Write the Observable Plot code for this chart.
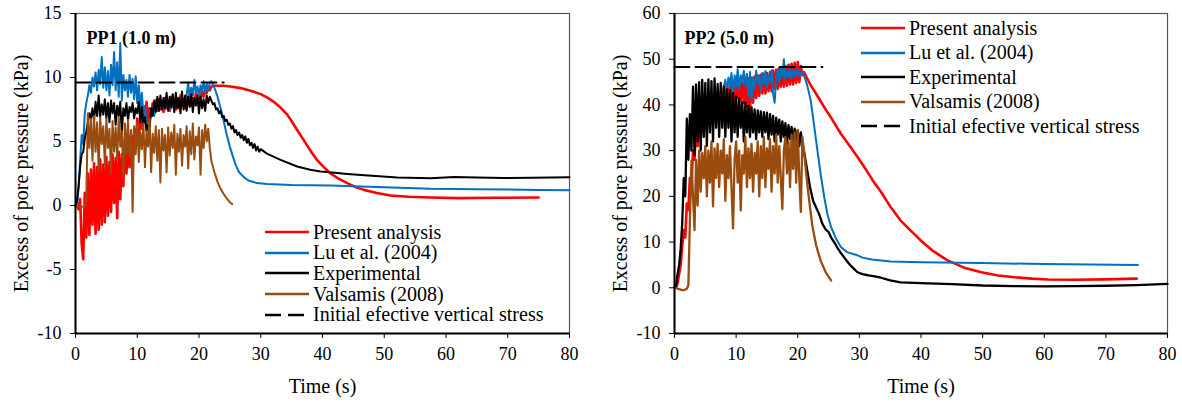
<!DOCTYPE html>
<html><head><meta charset="utf-8">
<script src="https://cdn.jsdelivr.net/npm/d3@7"></script>
<script src="https://cdn.jsdelivr.net/npm/@observablehq/plot@0.6"></script>
<style>
body{margin:0;background:#fff;}
#wrap{position:relative;width:1182px;height:405px;font-family:"Liberation Serif","Times New Roman",serif;}
.panel{position:absolute;top:0;}
.legend{position:absolute;font-size:20px;color:#000;font-family:"Liberation Serif","Times New Roman",serif;}
.legend .row{position:absolute;left:0;height:24px;display:flex;align-items:center;white-space:nowrap;}
.legend svg{display:block;margin-right:4px;}
</style></head><body>
<div id="wrap"></div>
<script>
// ---------- shared ----------
const dt = 0.25; // sampling step (s) of the noisy records
const xTicks = [0, 10, 20, 30, 40, 50, 60, 70, 80];
const seriesNames = ["Present analysis", "Lu et al. (2004)", "Experimental", "Valsamis (2008)", "Initial efective vertical stress"];
const seriesColors = ["#ff0000", "#0070c0", "#000000", "#9a4c0e", "#000000"];

// ---------- PP1 (1.0 m) ----------
const pp1YTicks = [-10, -5, 0, 5, 10, 15];
const pp1RedNoisy = [0,0,-0.3,0.5,-3.0,-4.2,1.0,-2.5,2.5,-2.3,2.8,-1.5,3.3,-2.2,3.0,-1.9,3.6,-1.5,3.2,-1.3,3.8,-0.8,3.4,-0.5,4.0,0.2,3.7,-1.0,4.2,0.5,4.0,1.5,5.3,2.5,4.8,3.0,5.5,3.5,6.0,4.5,6.8,5.0,7.0,6.0,7.5,6.5,8.1,6.5,7.6,7.0,8.0,7.2,8.2,
  7.4,8.3,7.5,8.1,7.3,8.4,7.6,8.2,7.4,8.5,7.7,8.3,7.5,8.4,7.6,8.6,7.8,8.3,7.6,8.5,7.9,8.7,7.8,8.4,8.0,8.8,8.1,8.6,8.3,9.0,8.5,8.9,8.8,9.2,9.0,9.3];
const pp1RedTail = [[22.5,9.35],[24,9.35],[25.1,9.3],[27,9.15],[28.5,8.95],[30,8.7],[31,8.45],[32.1,8.1],[33.2,7.65],[34.3,7.1],[35.1,6.5],[35.9,5.9],[36.7,5.3],[37.5,4.7],[38.3,4.1],[39.1,3.57],[40.2,3.0],[41.3,2.5],[42.6,2.1],[44,1.75],[45.3,1.45],[46.7,1.22],[48.8,0.98],[51,0.78],[54,0.68],[57.5,0.62],[62,0.58],[68,0.6],[75,0.62]];
const pp1BlueNoisy = [0,0.2,1.5,3.5,5.5,4.8,7.2,8.0,8.6,9.4,8.8,10.0,9.3,10.4,9.0,10.6,9.5,11.6,9.2,10.8,9.0,10.5,8.6,11.0,9.4,12.0,9.0,11.2,8.5,12.7,8.2,10.2,9.0,9.8,8.5,10.2,8.8,9.9,8.3,10.1,8.0,9.4,7.6,8.8,7.0,7.8,6.3,6.0,6.5,7.2,7.8,7.0,7.6,
  8.0,7.4,8.2,7.6,8.1,7.5,8.3,7.7,8.0,7.6,8.2,7.5,8.1,7.8,8.3,7.6,8.2,7.9,8.4,
  8.6,9.6,8.4,9.2,8.6,9.8,8.8,9.3,8.5,9.4,8.9,9.7,8.8,9.5,9.0,9.6,9.7];
const pp1BlueTail = [[22.5,9.2],[23,8.5],[23.5,7.6],[24,6.6],[24.5,5.5],[25,4.6],[25.5,3.8],[26,3.1],[26.5,2.6],[27.3,2.2],[28,1.95],[29.4,1.75],[31,1.68],[35,1.6],[41.3,1.56],[50,1.42],[57.5,1.3],[65,1.27],[75,1.22],[80,1.2]];
const pp1BlackNoisy = [0,0.3,1.5,3.0,4.0,4.2,5.2,5.8,6.5,7.2,6.8,7.6,6.6,8.1,7.0,8.6,6.9,7.9,7.1,8.3,6.8,8.0,6.5,8.2,7.2,8.0,6.3,7.8,7.0,8.1,5.6,7.6,7.0,8.0,6.6,7.7,7.3,8.0,6.8,7.6,7.2,8.1,6.5,7.7,6.4,6.9,5.8,6.3,6.0,7.6,7.0,8.2,7.3,
  8.5,7.4,8.6,7.5,8.4,7.6,8.8,7.4,8.5,7.7,8.7,7.3,8.8,7.6,8.4,7.2,8.9,7.5,8.6,7.4,8.5,7.7,8.7,7.3,8.4,7.8,8.6,7.2,8.5,7.6,8.3,7.4,8.6,8.0,8.5,8.2,
  7.9,8.0,7.5,7.6,7.2,7.4,6.9,7.0,6.6,6.7,6.3,6.4,6.0,6.2,5.7,5.9,5.5,5.7,5.3,5.5,5.1,5.4,4.9,5.2,4.7,4.9,4.5,4.8,4.3,4.6,4.2,4.4];
const pp1BlackTail = [[31,4.05],[33.2,3.57],[35.9,3.05],[38,2.8],[39.7,2.66],[42,2.55],[44,2.47],[48,2.33],[52.1,2.19],[57.5,2.13],[61.3,2.22],[65,2.18],[69.4,2.14],[74,2.16],[80,2.2]];
const pp1BrownNoisy = [0,-0.05,-0.1,-0.1,-0.1,-0.1,-0.1,0.5,7.2,4.5,6.8,3.5,7.0,4.2,6.5,2.8,6.9,4.8,6.2,3.2,6.8,4.5,6.0,2.5,6.6,4.2,6.1,3.6,6.9,4.6,5.8,2.2,6.4,4.0,6.7,3.8,5.9,-0.5,6.2,4.0,6.5,3.4,5.7,4.4,6.4,3.0,5.8,4.6,6.8,2.6,5.6,4.1,6.2,
  3.5,5.9,1.8,6.0,4.3,5.5,2.6,6.1,3.9,5.7,4.5,6.3,2.4,5.6,4.2,6.0,3.1,5.5,4.6,6.2,2.9,5.8,4.0,6.4,3.6,5.4,4.7,6.1,2.4,5.9,4.5,6.3,5.0,6.0];
const pp1BrownTail = [[21.75,4.5],[22,3.5],[22.5,2.6],[23,1.85],[23.5,1.3],[24,0.9],[24.5,0.55],[25,0.25],[25.4,0.1]];
const pp1Stress = [[0,9.6],[24,9.6]];

// ---------- PP2 (5.0 m) ----------
const pp2YTicks = [-10, 0, 10, 20, 30, 40, 50, 60];
const pp2RedNoisy = [0,0,1,3,5,9,12.7,11,18.4,17,24,22,30,28,36,31,38,33,40,34,41,35,41.5,36,42,37,42,37.5,42.5,38,43,39,43.5,40,44,40.5,44.5,41,44.8,40.5,45,41.5,45.2,41,45.5,40.5,45.3,39.5,45.8,38.8,46,40.5,46.2,
  41.5,46.4,42,46.6,42.5,46.8,42.5,47,43,47.2,43,47.5,43.5,47.7,43.5,48,44,48.2,44,48.5,44.2,48.8,44.5,49,44.5,49.2,44.8,49.4,45,48.5,46.5,47.2];
const pp2RedTail = [[22.1,44.3],[23,42.4],[24.3,39.5],[25.5,37],[27,33.7],[28.5,30.9],[29.7,28.6],[31,26],[32.4,23],[33.5,21],[35.1,17.6],[36.7,14.7],[38.5,12.3],[40,10.3],[42,8.0],[44.3,6.0],[47,4.4],[49.8,3.4],[52.5,2.7],[55.2,2.3],[58,2.0],[60.6,1.8],[65,1.75],[70,1.85],[75,2.0]];
const pp2BlueNoisy = [43.9,45.5,43,46,44,47,42.5,46.5,44,47.8,43.5,46.5,45,47.5,44,46.8,42,47.2,41,46,43.5,47.5,44.5,46.5,43,47,44.5,47.4,43.8,46.5,45,47.6,42.5,40.5,46,47.8,45,48.2,46,50.0,
  45.5,47.6,46,48,45.8,47.5,46.2,47.8,46.3,47.6,46.5,47.3,46.5];
const pp2BlueTail = [[21.5,44.5],[22.1,41],[22.6,36],[23.2,30],[23.7,25],[24.3,19.8],[24.8,16.2],[25.4,13.3],[26.2,10.8],[27,8.9],[28,7.8],[29.7,7.1],[30.5,6.6],[32,6.2],[35.1,5.75],[40,5.6],[49.8,5.4],[60,5.2],[75.2,5.0]];
const pp2BlackNoisy = [0,0.5,3,5,8.5,14,24,20,37,28,38,30,44,29,44.5,32,45,30,45.5,33,44.8,31,45.6,34,45.2,32,45.8,35,44.6,33,44.8,35,44.0,33,43.4,35,43.2,32,42.6,34,41.8,33,41.5,35,40.6,32,40.5,34,39.8,33,39.5,34,39.0,
  32.5,38.8,34,38.6,33,38.4,34,38.3,32.5,38.0,33.5,37.6,32,37.2,33.5,36.8,32,36.4,33,36.0,31.5,35.6,32.5,35.2,31.5,34.8,32,34.5,31,34.0,31.5,30.0];
const pp2BlackTail = [[21.5,26],[22,22],[22.5,19],[23,17.5],[23.5,16],[24,14],[24.5,12.8],[25,12.2],[25.5,10.8],[26,9.8],[26.5,8.6],[27,7.6],[27.5,6.7],[28,5.8],[28.5,5.0],[29,4.3],[29.7,3.4],[30.5,3.0],[31.5,2.7],[32.5,2.5],[33.5,2.2],[35,1.6],[36.7,1.2],[40,1.0],[45,0.8],[50,0.5],[55,0.35],[60,0.3],[65,0.35],[70,0.45],[75,0.6],[80,0.85]];
const pp2BrownNoisy = [0,-0.1,-0.2,-0.3,-0.4,-0.5,-0.5,-0.4,-0.2,0.5,15,27.8,20,12.6,28,18,30,21,29.5,24,31,20,30,23,32,17.8,30.5,24,31.5,22,30,25,32.5,19,29,24,31,22,13,28,32,23,30,16.9,29,25,33,22,30.5,24,31.5,21,29.5,
  25,32,20,31,24,33,22,30.5,26,32.5,21,31,25,33.5,23,31,24,17.2,30,33,25,32,22,33.5,26,34,23,34.5,24,16.6,33,30];
const pp2BrownTail = [[21.3,26],[21.6,22],[22.0,17.5],[22.4,13.3],[23.0,9.2],[23.7,6.0],[24.5,3.5],[25.4,1.6]];
const pp2Stress = [[0,48.3],[24,48.3]];

// ---------- helpers ----------
function record(noisy, t0, tail) {
  const pts = noisy.map((v, i) => [t0 + i * dt, v]);
  return pts.concat(tail);
}

function panel(cfg) {
  const lineOpts = (c, w) => ({x: d => d[0], y: d => d[1], stroke: c, strokeWidth: w, strokeLinejoin: "round"});
  return Plot.plot({
    width: cfg.width, height: 405,
    marginLeft: cfg.ml, marginRight: cfg.mr, marginTop: 13, marginBottom: 72,
    style: {fontFamily: "Liberation Serif, Times New Roman, serif", fontSize: "18px", color: "#000", background: "transparent", overflow: "visible"},
    x: {domain: [0, 80]},
    y: {domain: cfg.yDomain},
    marks: [
      Plot.frame({stroke: "#555", strokeWidth: 1.2}),
      Plot.line(cfg.red, lineOpts(seriesColors[0], 2.6)),
      Plot.line(cfg.blue, lineOpts(seriesColors[1], 2)),
      Plot.line(cfg.black, lineOpts(seriesColors[2], cfg.noisyWidth)),
      Plot.line(cfg.brown, lineOpts(seriesColors[3], cfg.noisyWidth)),
      Plot.line(cfg.stress, {...lineOpts(seriesColors[4], 2), strokeDasharray: "15 6"}),
      Plot.ruleX([0], {stroke: "#000", strokeWidth: 2}),
      Plot.ruleY([cfg.yDomain[0]], {stroke: "#000", strokeWidth: 2}),
      Plot.axisX({ticks: xTicks, tickSize: 5, tickPadding: 9, fontSize: 18, label: null, tickFormat: d => String(d)}),
      Plot.axisY({ticks: cfg.yTicks, tickSize: 5, tickPadding: 9, fontSize: 18, label: null, tickFormat: d => String(d)}),
      Plot.text(["Time (s)"], {text: d => d, frameAnchor: "bottom", dy: 59, fontSize: 20}),
      Plot.text(["Excess of pore pressure (kPa)"], {text: d => d, frameAnchor: "left", dx: -54, rotate: -90, textAnchor: "middle", fontSize: 20}),
      Plot.text([cfg.title], {text: d => d, frameAnchor: "top-left", dx: cfg.titleDx, dy: 18, textAnchor: "start", fontSize: 18, fontWeight: "bold"})
    ]
  });
}

function legend(left, top, rowGap) {
  const el = document.createElement("div");
  el.className = "legend";
  el.style.left = left + "px";
  el.style.top = top + "px";
  seriesNames.forEach((name, i) => {
    const row = document.createElement("div");
    row.className = "row";
    row.style.top = (i * rowGap - 12) + "px";
    const dash = i === 4 ? ' stroke-dasharray="16 7"' : '';
    row.innerHTML = `<svg width="44" height="6"><line x1="0" x2="44" y1="3" y2="3" stroke="${seriesColors[i]}" stroke-width="2.5"${dash}/></svg><span>${name}</span>`;
    el.appendChild(row);
  });
  return el;
}

const wrap = document.getElementById("wrap");

const p1 = panel({
  width: 590, ml: 75, mr: 21, yDomain: [-10, 15], yTicks: pp1YTicks, title: "PP1 (1.0 m)", titleDx: 11, noisyWidth: 2,
  red: record(pp1RedNoisy, 0, pp1RedTail),
  blue: record(pp1BlueNoisy, 0, pp1BlueTail),
  black: record(pp1BlackNoisy, 0, pp1BlackTail),
  brown: record(pp1BrownNoisy, 0, pp1BrownTail),
  stress: pp1Stress
});
const d1 = document.createElement("div"); d1.className = "panel"; d1.style.left = "0px"; d1.appendChild(p1); wrap.appendChild(d1);

const p2 = panel({
  width: 592, ml: 84, mr: 15, yDomain: [-10, 60], yTicks: pp2YTicks, title: "PP2 (5.0 m)", titleDx: 10, noisyWidth: 2.3,
  red: record(pp2RedNoisy, 0, pp2RedTail),
  blue: record(pp2BlueNoisy, 8, pp2BlueTail),
  black: record(pp2BlackNoisy, 0, pp2BlackTail),
  brown: record(pp2BrownNoisy, 0, pp2BrownTail),
  stress: pp2Stress
});
const d2 = document.createElement("div"); d2.className = "panel"; d2.style.left = "590px"; d2.appendChild(p2); wrap.appendChild(d2);

wrap.appendChild(legend(265, 232, 20.7));
wrap.appendChild(legend(861, 28, 24.6));
</script></body></html>
